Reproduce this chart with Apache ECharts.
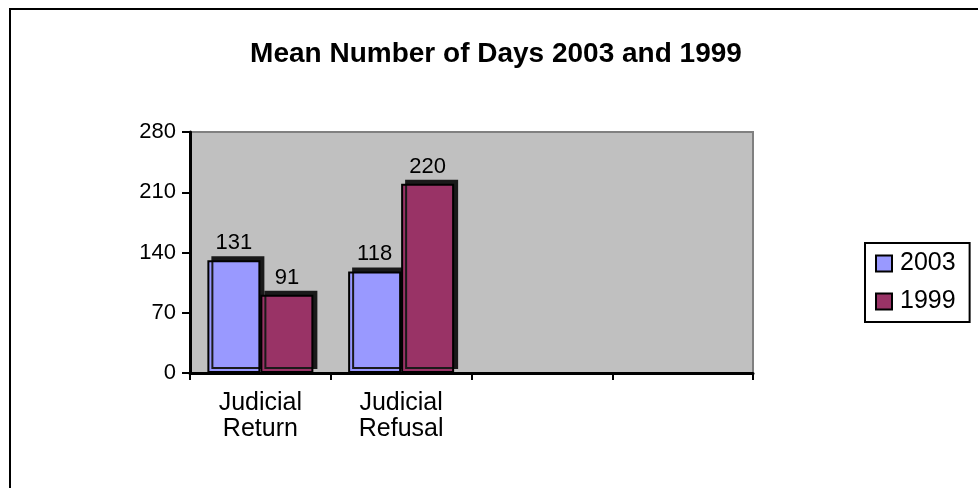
<!DOCTYPE html>
<html>
<head>
<meta charset="utf-8">
<script src="https://cdn.jsdelivr.net/npm/echarts@6/dist/echarts.min.js"></script>
<style>
  html, body { margin: 0; padding: 0; background: #fff; }
  #chart { width: 978px; height: 488px; }
</style>
</head>
<body>
<div id="chart"></div>
<script>
// categories and values
var categories = ['Judicial\nReturn', 'Judicial\nRefusal', '', ''];
var values_2003 = [131, 118, null, null];
var values_1999 = [91, 220, null, null];
var y_ticks = [0, 70, 140, 210, 280];

var chart = echarts.init(document.getElementById('chart'));

//bar style with a little depth like the old 3D look
function bar_style(color) {
    return {
        color: color,
        borderColor: '#000',
        borderWidth: 2,
        shadowColor: '#1a1a1a',
        shadowBlur: 0,
        shadowOffsetX: 4,
        shadowOffsetY: -4
    };
}

var label_style = {
    show: true,
    position: 'top',
    distance: 6,
    color: '#000',
    fontFamily: 'Liberation Sans, Arial',
    fontSize: 22
};

var option = {
    backgroundColor: '#fff',
    animation: false,
    title: {
        text: 'Mean Number of Days 2003 and 1999',
        left: 491,
        top: 35,
        textAlign: 'center',
        textStyle: {
            fontFamily: 'Liberation Sans, Arial',
            fontWeight: 'bold',
            fontSize: 28,
            color: '#000'
        }
    },
    graphic: [
        {
            type: 'rect',
            shape: { x: 10, y: 9, width: 1000, height: 520 },
            style: { fill: 'none', stroke: '#000', lineWidth: 2 },
            silent: true
        }
    ],
    legend: {
        left: 865,
        top: 243,
        orient: 'vertical',
        itemWidth: 16,
        itemHeight: 16,
        itemGap: 13,
        padding: [8, 14, 8, 10],
        borderColor: '#000',
        borderWidth: 2,
        icon: 'rect',
        data: ['2003', '1999'],
        itemStyle: { shadowColor: 'transparent', borderColor: '#000', borderWidth: 2 },
        textStyle: {
            fontFamily: 'Liberation Sans, Arial',
            fontSize: 25,
            color: '#000',
            padding: [0, 0, 0, 3]
        }
    },
    grid: {
        left: 190,
        right: 225,
        top: 132,
        bottom: 115,
        show: true,
        backgroundColor: '#c0c0c0',
        borderColor: '#808080',
        borderWidth: 2
    },
    xAxis: {
        type: 'category',
        data: categories,
        axisLine: { lineStyle: { color: '#000', width: 3 } },
        axisTick: { show: true, length: 7, lineStyle: { color: '#000', width: 2 } },
        axisLabel: {
            color: '#000',
            fontFamily: 'Liberation Sans, Arial',
            fontSize: 25,
            lineHeight: 26,
            margin: 17
        },
        splitLine: { show: false }
    },
    yAxis: {
        type: 'value',
        min: y_ticks[0],
        max: y_ticks[y_ticks.length - 1],
        interval: 70,
        axisLine: { show: true, lineStyle: { color: '#000', width: 3 } },
        axisTick: { show: true, length: 8, lineStyle: { color: '#000', width: 2 } },
        axisLabel: {
            color: '#000',
            fontFamily: 'Liberation Sans, Arial',
            fontSize: 22,
            margin: 14
        },
        splitLine: { show: false }
    },
    series: [
        {
            name: '2003',
            type: 'bar',
            data: values_2003,
            barWidth: 53,
            barGap: '0%',
            itemStyle: bar_style('#9999ff'),
            label: label_style
        },
        {
            name: '1999',
            type: 'bar',
            data: values_1999,
            barWidth: 53,
            itemStyle: bar_style('#993366'),
            label: label_style
        }
    ]
};

chart.setOption(option, true);
</script>
</body>
</html>
